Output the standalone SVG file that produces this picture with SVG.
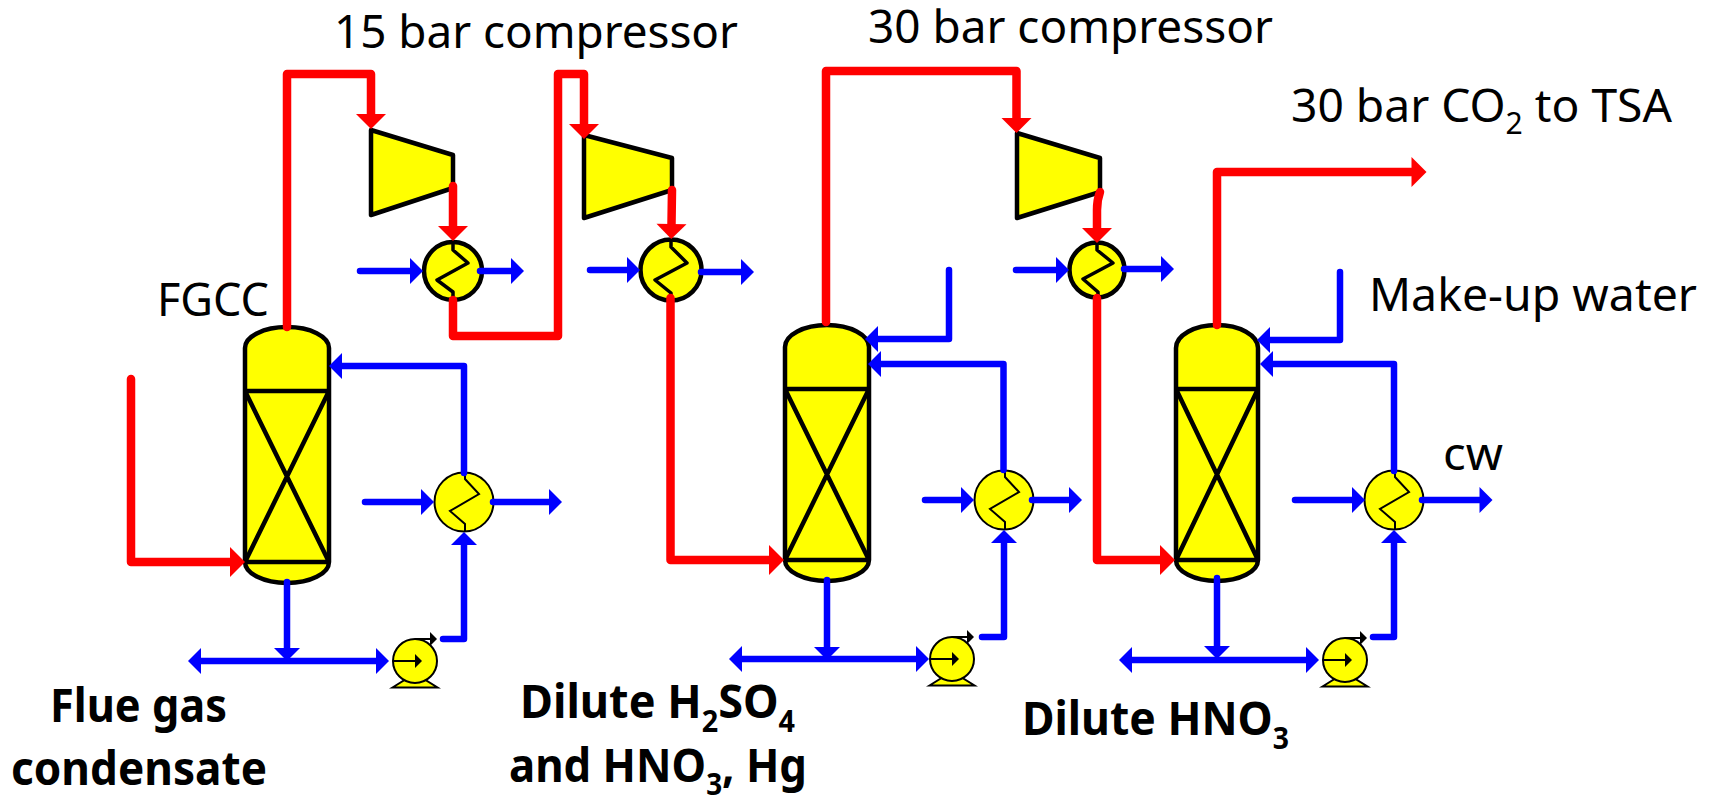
<svg xmlns="http://www.w3.org/2000/svg" width="1714" height="798" viewBox="0 0 1714 798">
<style>
.eq{fill:#ff0;stroke:#000;stroke-width:4.5;stroke-linejoin:round}
.in{fill:none;stroke:#000;stroke-width:4.500;stroke-linejoin:round}
.thin{fill:#ff0;stroke:#000;stroke-width:2}
.thinl{fill:none;stroke:#000;stroke-width:2}
.zz{fill:none;stroke:#000;stroke-width:3.5;stroke-linejoin:round}
.red{fill:none;stroke:#f00;stroke-width:8.5;stroke-linecap:round;stroke-linejoin:round;marker-end:url(#ra)}
.blue{fill:none;stroke:#00f;stroke-width:6.5;stroke-linecap:round;stroke-linejoin:round;marker-end:url(#ba)}
.both{marker-start:url(#ba)}
text{font-family:"Noto Sans","Open Sans",sans-serif;font-size:46px;fill:#000}
.b{font-weight:700;font-size:47px}
</style>
<defs>
<marker id="ra" markerUnits="userSpaceOnUse" markerWidth="16" markerHeight="32" refX="0" refY="15" orient="auto-start-reverse" overflow="visible"><path d="M0,0L15,15L0,30Z" fill="#f00"/></marker>
<marker id="ba" markerUnits="userSpaceOnUse" markerWidth="14" markerHeight="28" refX="0" refY="13" orient="auto-start-reverse" overflow="visible"><path d="M0,0L13,13L0,26Z" fill="#00f"/></marker>
<marker id="ka" markerUnits="userSpaceOnUse" markerWidth="8" markerHeight="14" refX="0" refY="7" orient="auto" overflow="visible"><path d="M0,0L7,7L0,14Z" fill="#000"/></marker>
<g id="pumpshape">
<path class="thin" d="M-22.500,26.500L-8,17.500H8L22.500,26.500Z"/>
<circle class="thin" cx="0" cy="0" r="22"/>
<path d="M-22,0H0" stroke="#000" stroke-width="2" marker-end="url(#ka)"/>
<path d="M0,-22H15" stroke="#000" stroke-width="2" marker-end="url(#ka)"/>
</g>
<path id="coolzz" class="thinl" d="M0,-30V-23L14,-8L-15,9L0,22V29"/>
</defs>

<g id="column-1"><path class="eq" d="M245,348A42,21 0 0 1 329,348V562A42,21 0 0 1 245,562Z"/><path class="in" d="M245,391H329M245,562H329M245,391L329,562M329,391L245,562"/></g>
<g id="column-2"><path class="eq" d="M785,347A42,22 0 0 1 869,347V560A42,21 0 0 1 785,560Z"/><path class="in" d="M785,389H869M785,560H869M785,389L869,560M869,389L785,560"/></g>
<g id="column-3"><path class="eq" d="M1176,348A41,23 0 0 1 1258,348V560A41,21 0 0 1 1176,560Z"/><path class="in" d="M1176,389H1258M1176,560H1258M1176,389L1258,560M1258,389L1176,560"/></g>

<g id="compressor-1"><path class="eq" d="M371,130L453,155V188L371,215Z"/></g>
<g id="compressor-2"><path class="eq" d="M584,135L672,158V190L584,218Z"/></g>
<g id="compressor-3"><path class="eq" d="M1017,133L1100,158V192L1017,218Z"/></g>

<g id="intercooler-1"><circle class="eq" cx="453" cy="271" r="29"/><path class="zz" d="M453,242V250L468,263L437,280L453,292V300"/></g>
<g id="intercooler-2"><circle class="eq" cx="671" cy="270" r="30.500"/><path class="zz" d="M671,240V247L687,263L655,280L671,293V299"/></g>
<g id="intercooler-3"><circle class="eq" cx="1097" cy="270" r="27.500"/><path class="zz" d="M1097,243V250L1113,263L1083,279L1098,292V298"/></g>

<g id="cooler-1"><circle class="thin" cx="464" cy="502" r="29.500"/><use href="#coolzz" x="465" y="502"/></g>
<g id="cooler-2"><circle class="thin" cx="1004" cy="500" r="29.500"/><use href="#coolzz" x="1005" y="500"/></g>
<g id="cooler-3"><circle class="thin" cx="1394" cy="500" r="29.500"/><use href="#coolzz" x="1395" y="500"/></g>

<g id="pump-1"><use href="#pumpshape" x="415" y="661"/></g>
<g id="pump-2"><use href="#pumpshape" x="952" y="659"/></g>
<g id="pump-3"><use href="#pumpshape" x="1345" y="660"/></g>

<g id="connectors">
<path class="red" d="M287,327V74H371V114"/>
<path class="red" d="M453,186V226"/>
<path class="red" d="M453,300V336H558V74H584V124"/>
<path class="red" d="M672,190L671.500,224"/>
<path class="red" d="M670.500,298V560H769"/>
<path class="red" d="M826,322V71H1016.500V118"/>
<path class="red" d="M1100,192Q1097,200 1097,210V228"/>
<path class="red" d="M1097,298V560H1160"/>
<path class="red" d="M1217,325V172H1411.500"/>
<path class="red" d="M131,379V562H230"/>

<path class="blue" d="M360,271H410"/>
<path class="blue" d="M480,271H511"/>
<path class="blue" d="M590,270H627"/>
<path class="blue" d="M701,272H741"/>
<path class="blue" d="M1016,270H1056"/>
<path class="blue" d="M1124,269H1161"/>

<path class="blue" d="M464,473V366H342"/>
<path class="blue" d="M365,502H421"/>
<path class="blue" d="M493,502H549"/>
<path class="blue" d="M443,639H464V545"/>
<path class="blue" d="M287,582V648"/>
<path class="blue both" d="M201,661H376"/>

<path class="blue" d="M949,270V339H878"/>
<path class="blue" d="M1003.500,470V364H881"/>
<path class="blue" d="M925,500H961"/>
<path class="blue" d="M1032,500H1069"/>
<path class="blue" d="M982,637H1004V543"/>
<path class="blue" d="M827,580V647"/>
<path class="blue both" d="M742,659H916"/>

<path class="blue" d="M1340,272V340H1270"/>
<path class="blue" d="M1394,471V364H1273"/>
<path class="blue" d="M1295,500H1352"/>
<path class="blue" d="M1422,500H1479.500"/>
<path class="blue" d="M1373,637H1394V543"/>
<path class="blue" d="M1217,578V646"/>
<path class="blue both" d="M1132,660H1306"/>
</g>

<g id="labels">
<text x="334" y="48" textLength="404" lengthAdjust="spacingAndGlyphs">15 bar compressor</text>
<text x="868" y="43" textLength="405" lengthAdjust="spacingAndGlyphs">30 bar compressor</text>
<text x="1291" y="122" textLength="381" lengthAdjust="spacingAndGlyphs">30 bar CO<tspan dy="12" font-size="30">2</tspan><tspan dy="-12"> to TSA</tspan></text>
<text x="1369" y="311" textLength="328" lengthAdjust="spacingAndGlyphs">Make-up water</text>
<text x="157" y="316" textLength="112" lengthAdjust="spacingAndGlyphs">FGCC</text>
<text x="1443" y="470" textLength="60" lengthAdjust="spacingAndGlyphs">cw</text>
<text class="b" x="50" y="722" textLength="177" lengthAdjust="spacingAndGlyphs">Flue gas</text>
<text class="b" x="11" y="785" textLength="256" lengthAdjust="spacingAndGlyphs">condensate</text>
<text class="b" x="520" y="718" textLength="275" lengthAdjust="spacingAndGlyphs">Dilute H<tspan dy="14" font-size="30">2</tspan><tspan dy="-14">SO</tspan><tspan dy="14" font-size="30">4</tspan></text>
<text class="b" x="509" y="782" textLength="298" lengthAdjust="spacingAndGlyphs">and HNO<tspan dy="13" font-size="30">3</tspan><tspan dy="-13">, Hg</tspan></text>
<text class="b" x="1022" y="735" textLength="267" lengthAdjust="spacingAndGlyphs">Dilute HNO<tspan dy="14" font-size="30">3</tspan></text>
</g>
</svg>
